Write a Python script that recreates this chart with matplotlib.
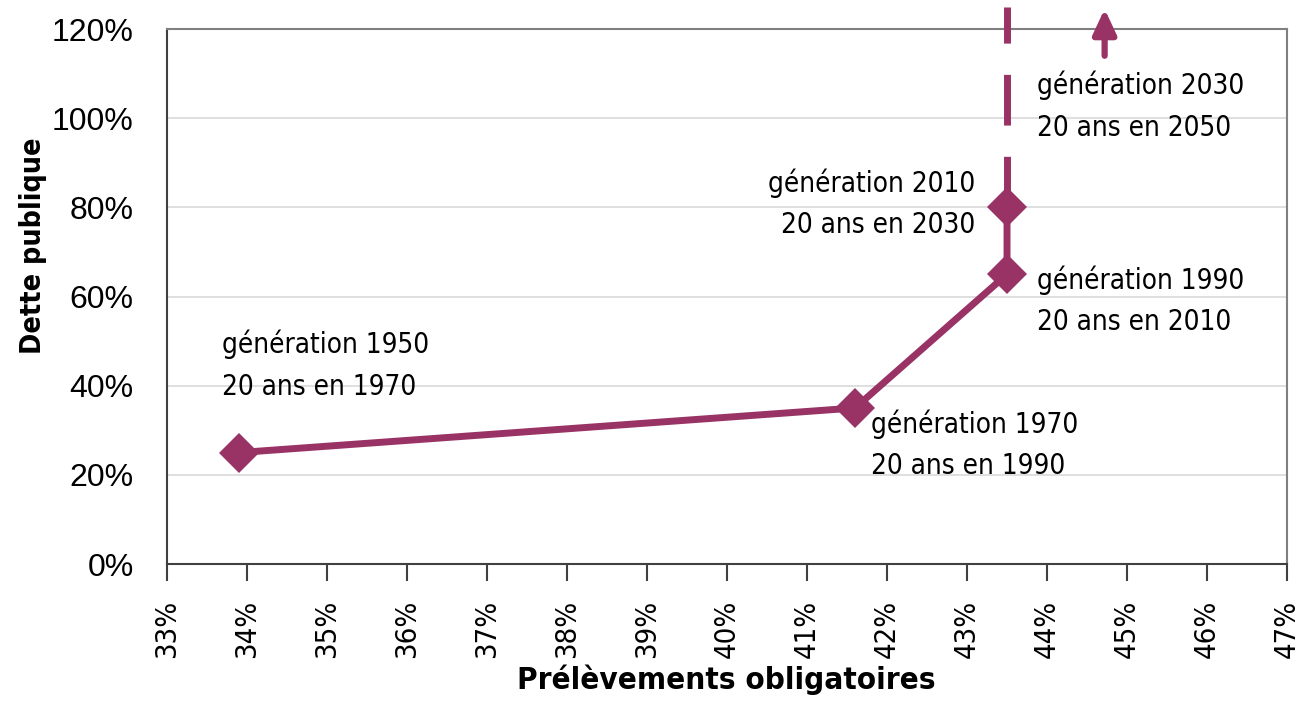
import matplotlib.pyplot as plt
from matplotlib.ticker import PercentFormatter

# données (en %)
prelevements = [33.9, 41.6, 43.5, 43.5]
dette = [25, 35, 65, 80]
generations = ["génération 1950\n20 ans en 1970",
               "génération 1970\n20 ans en 1990",
               "génération 1990\n20 ans en 2010",
               "génération 2010\n20 ans en 2030",
               "génération 2030\n20 ans en 2050"]
# prolongement pointillé et flèche (génération 2030)
tirets_x = [43.5, 43.5]
tirets_y = [80, 125]
fleche_x = 44.72
fleche_y = [114, 124.5]

couleur = "#993366"
plt.rcParams['font.family'] = ['DejaVu Sans']
plt.rcParams['font.stretch'] = 'condensed'

fig = plt.figure(figsize=(13.02, 7.01), dpi=100)
ax = fig.add_axes([0.1283, 0.1954, 0.8602, 0.7632])

ax.plot(prelevements, dette, color=couleur, linewidth=5, marker='D',
        markersize=20, markeredgewidth=0, zorder=3)
ax.plot(tirets_x, tirets_y, color=couleur, linewidth=5,
        linestyle=(0, (7.3, 4.5)), clip_on=False, zorder=3)
ax.annotate("", xy=(fleche_x, fleche_y[1]), xytext=(fleche_x, fleche_y[0]),
            xycoords='data', annotation_clip=False,
            arrowprops=dict(arrowstyle='-|>,head_length=0.75,head_width=0.35',
                            mutation_scale=20, color=couleur, linewidth=4.5,
                            shrinkA=0, shrinkB=0))

txt = dict(fontsize=20, linespacing=1.6, va='center')
ax.text(33.69, 44.6, generations[0], ha='left', **txt)
ax.text(41.8, 26.7, generations[1], ha='left', **txt)
ax.text(43.875, 59.0, generations[2], ha='left', **txt)
ax.text(43.1, 80.8, generations[3], ha='right', multialignment='right', **txt)
ax.text(43.875, 102.7, generations[4], ha='left', **txt)

ax.set_xlim(33, 47)
ax.set_ylim(0, 120)
ax.set_xticks(range(33, 48))
ax.set_yticks(range(0, 121, 20))
ax.xaxis.set_major_formatter(PercentFormatter(decimals=0))
ax.yaxis.set_major_formatter(PercentFormatter(decimals=0))
ax.tick_params(axis='x', direction='out', length=12, width=1.5, color='#404040',
               pad=14, labelsize=21, labelrotation=90)
ax.tick_params(axis='y', length=0, pad=24, labelsize=23)
for lab in ax.get_yticklabels():
    lab.set_fontfamily(['Liberation Sans', 'DejaVu Sans'])

ax.grid(axis='y', color='#d9d9d9', linewidth=1.2)
ax.set_axisbelow(True)
for s in ax.spines.values():
    s.set_color('#808080')
    s.set_linewidth(1.5)
ax.spines['left'].set_color('#404040')
ax.spines['bottom'].set_color('#404040')

fig.text(0.558, 0.03, "Prélèvements obligatoires", ha='center', va='center',
         fontsize=22.5, fontweight='bold')
fig.text(0.025, 0.649, "Dette publique", ha='center', va='center',
         fontsize=20.5, fontweight='bold', rotation=90)

fig.savefig("out.png", dpi=100)
